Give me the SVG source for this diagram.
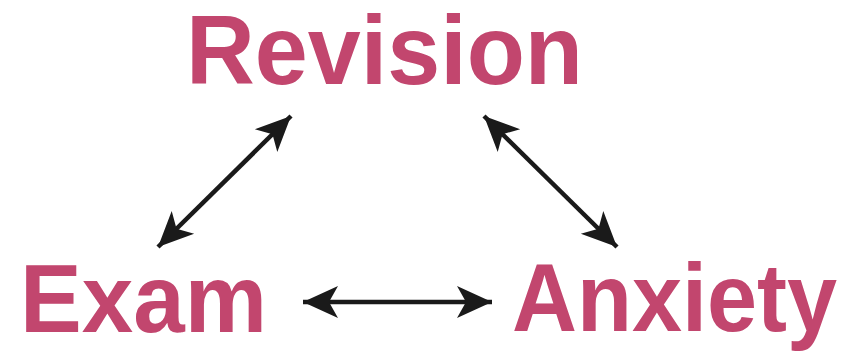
<svg xmlns="http://www.w3.org/2000/svg" width="864" height="351" viewBox="0 0 864 351">
<style>
.lbl{font-family:"Liberation Sans",Arial,sans-serif;font-weight:bold;fill:#C2466E}
.con{stroke:#1a1a1a;stroke-width:4.5;fill:none;marker-start:url(#ah);marker-end:url(#ah)}
</style>
<defs>
<marker id="ah" markerUnits="userSpaceOnUse" viewBox="-36 -18 38 36" refX="0" refY="0" markerWidth="38" markerHeight="36" orient="auto-start-reverse">
<path d="M0,0 L-35,-16 L-26,0 L-35,16 Z" fill="#1a1a1a"/>
</marker>
</defs>
<rect width="864" height="351" fill="#fff"/>
<g id="revision"><text class="lbl" x="186" y="84" font-size="98" textLength="397" lengthAdjust="spacingAndGlyphs">Revision</text></g>
<g id="exam"><text class="lbl" x="20" y="332" font-size="96" textLength="247" lengthAdjust="spacingAndGlyphs">Exam</text></g>
<g id="anxiety"><text class="lbl" x="512" y="331" font-size="96" textLength="325" lengthAdjust="spacingAndGlyphs">Anxiety</text></g>
<g id="connectors">
<line class="con" x1="158" y1="247" x2="291" y2="116"/>
<line class="con" x1="484" y1="116" x2="617" y2="247"/>
<line class="con" x1="303" y1="302" x2="492" y2="302"/>
</g>
</svg>
